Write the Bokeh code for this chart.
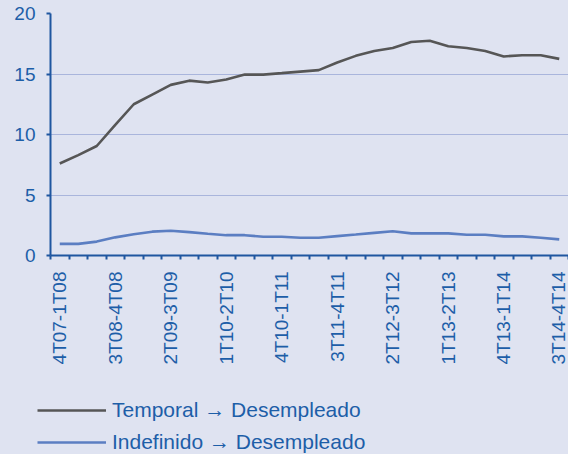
import math
from bokeh.plotting import figure
from bokeh.layouts import column, row
from bokeh.models import (ColumnDataSource, FixedTicker, Legend, LegendItem,
                          Range1d)
from bokeh.embed import file_html
from bokeh.resources import INLINE

periods = ["4T07-1T08", "1T08-2T08", "2T08-3T08", "3T08-4T08", "4T08-1T09",
           "1T09-2T09", "2T09-3T09", "3T09-4T09", "4T09-1T10", "1T10-2T10",
           "2T10-3T10", "3T10-4T10", "4T10-1T11", "1T11-2T11", "2T11-3T11",
           "3T11-4T11", "4T11-1T12", "1T12-2T12", "2T12-3T12", "3T12-4T12",
           "4T12-1T13", "1T13-2T13", "2T13-3T13", "3T13-4T13", "4T13-1T14",
           "1T14-2T14", "2T14-3T14", "3T14-4T14"]

temporal = [7.6, 8.3, 9.05, 10.8, 12.5, 13.3, 14.1, 14.45, 14.3, 14.55,
            14.95, 14.95, 15.07, 15.2, 15.32, 15.95, 16.5, 16.9, 17.15,
            17.65, 17.75, 17.3, 17.15, 16.9, 16.45, 16.55, 16.55, 16.25]

indefinido = [0.96, 0.96, 1.15, 1.5, 1.75, 1.97, 2.05, 1.93, 1.8, 1.68,
              1.68, 1.55, 1.55, 1.47, 1.47, 1.6, 1.73, 1.87, 2.0, 1.83,
              1.83, 1.83, 1.72, 1.72, 1.58, 1.58, 1.47, 1.33]

y_ticks = [0, 5, 10, 15, 20]
label_step = 3

series_names = ["Temporal \u2192 Desempleado", "Indefinido \u2192 Desempleado"]

BG = "#dfe3f1"
TXT = "#1d5ea8"
AX = "#1f56a0"
FONT = "Arial"
C_TEMP = "#565656"
C_INDEF = "#5b7ec2"

x = list(range(len(periods)))
src = ColumnDataSource(dict(x=x, temporal=temporal, indefinido=indefinido))

# ---------------- main chart ----------------
p = figure(frame_width=518, frame_height=242, min_border_top=13,
           min_border_left=50, min_border_right=0, min_border_bottom=125,
           output_backend="svg", toolbar_location=None,
           x_range=Range1d(-0.5, len(periods) - 0.5), y_range=Range1d(0, 20))
p.background_fill_color = BG
p.border_fill_color = BG
p.outline_line_color = None

p.line("x", "temporal", source=src, line_color=C_TEMP, line_width=2.6)
p.line("x", "indefinido", source=src, line_color=C_INDEF, line_width=2.6)

label_idx = x[::label_step]
p.xaxis.ticker = FixedTicker(ticks=label_idx,
                             minor_ticks=[i - 0.5 for i in range(len(periods) + 1)])
p.xaxis.major_label_overrides = {i: periods[i] for i in label_idx}
p.xaxis.major_label_orientation = math.pi / 2
p.xaxis.major_tick_out = 0
p.xaxis.major_tick_in = 0
p.xaxis.minor_tick_out = 4
p.xaxis.minor_tick_in = 0
p.xaxis.minor_tick_line_color = AX
p.xaxis.minor_tick_line_width = 2
p.xaxis.major_label_standoff = 12
p.xgrid.grid_line_color = None

p.yaxis.ticker = FixedTicker(ticks=y_ticks)
p.yaxis.major_tick_out = 4
p.yaxis.major_tick_in = 0
p.yaxis.minor_tick_line_color = None
p.yaxis.major_label_standoff = 11
p.ygrid.grid_line_color = "#a9b5dc"
p.ygrid.grid_line_width = 1

for ax in (p.xaxis, p.yaxis):
    ax.axis_line_color = AX
    ax.axis_line_width = 2
    ax.major_tick_line_color = AX
    ax.major_tick_line_width = 2
    ax.major_label_text_color = TXT
    ax.major_label_text_font = FONT
    ax.major_label_text_font_size = "19px"

# ---------------- legend strip ----------------
lg = figure(width=568, height=74, min_border=0, output_backend="svg",
            toolbar_location=None, x_axis_location=None, y_axis_location=None,
            x_range=Range1d(-0.5, len(periods) - 0.5),
            y_range=Range1d(100, 101))
lg.background_fill_color = BG
lg.border_fill_color = BG
lg.outline_line_color = None
lg.grid.visible = False
lr1 = lg.line("x", "temporal", source=src, line_color=C_TEMP, line_width=2.6)
lr2 = lg.line("x", "indefinido", source=src, line_color=C_INDEF, line_width=2.6)

legend = Legend(items=[LegendItem(label=series_names[0], renderers=[lr1]),
                       LegendItem(label=series_names[1], renderers=[lr2])],
                location=(37, 0))
legend.background_fill_alpha = 0
legend.border_line_alpha = 0
legend.margin = 0
legend.padding = 0
legend.glyph_width = 69
legend.glyph_height = 24
legend.label_height = 24
legend.spacing = 8
legend.label_standoff = 6
legend.label_text_color = TXT
legend.label_text_font = FONT
legend.label_text_font_size = "21px"
lg.add_layout(legend, "center")

layout = column(p, row(lg, spacing=0, styles={"background-color": BG}),
                spacing=0, styles={"background-color": BG})
open("out.html", "w").write(file_html(layout, INLINE))
